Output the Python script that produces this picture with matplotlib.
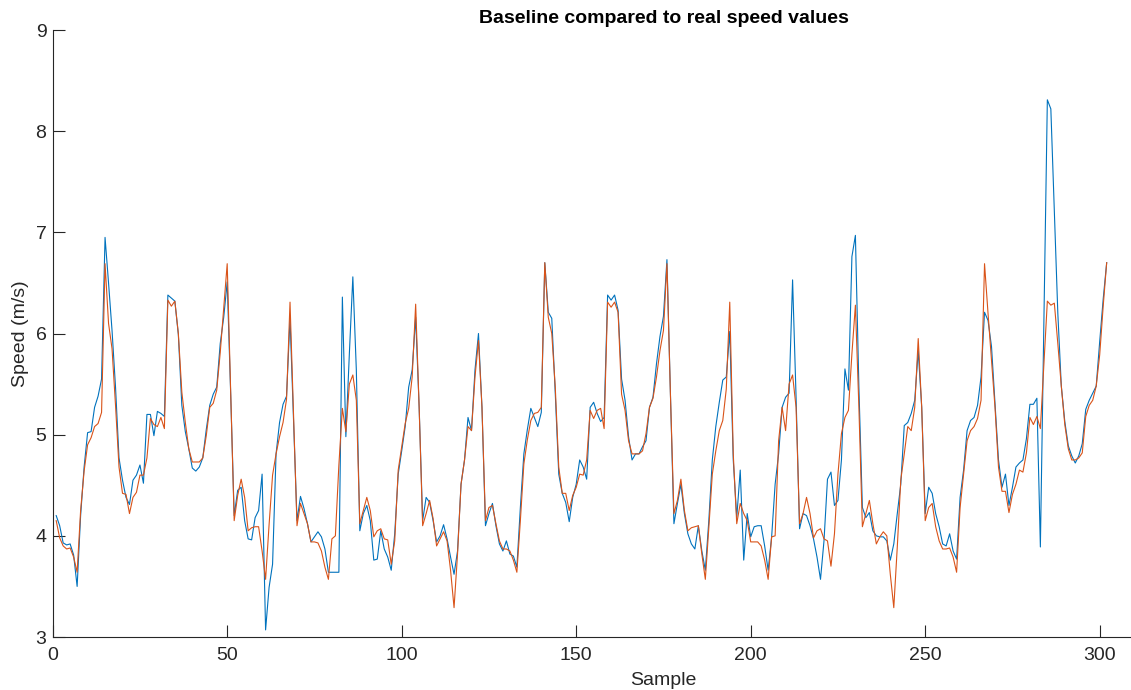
import matplotlib
matplotlib.use("Agg")
import matplotlib.pyplot as plt
import numpy as np

real_speed = [
    4.20, 4.10, 3.93, 3.91, 3.92, 3.81, 3.50, 4.20, 4.68, 5.02,
    5.03, 5.27, 5.38, 5.55, 6.95, 6.50, 6.03, 5.47, 4.77, 4.55,
    4.38, 4.31, 4.55, 4.60, 4.70, 4.52, 5.20, 5.20, 4.99, 5.23,
    5.21, 5.18, 6.38, 6.35, 6.32, 5.99, 5.29, 5.03, 4.86, 4.67,
    4.64, 4.68, 4.77, 5.05, 5.29, 5.40, 5.47, 5.90, 6.16, 6.51,
    5.40, 4.20, 4.45, 4.48, 4.15, 3.97, 3.96, 4.18, 4.25, 4.61,
    3.07, 3.49, 3.72, 4.81, 5.12, 5.30, 5.38, 6.15, 5.14, 4.15,
    4.39, 4.27, 4.12, 3.94, 3.99, 4.04, 3.99, 3.87, 3.64, 3.64,
    3.64, 3.64, 6.36, 4.98, 5.80, 6.56, 5.64, 4.05, 4.22, 4.30,
    4.15, 3.76, 3.77, 4.05, 3.87, 3.79, 3.66, 4.02, 4.61, 4.84,
    5.08, 5.47, 5.64, 6.16, 5.27, 4.15, 4.38, 4.33, 4.15, 3.94,
    4.00, 4.11, 3.97, 3.79, 3.62, 3.85, 4.51, 4.75, 5.17, 5.04,
    5.64, 6.00, 5.27, 4.10, 4.22, 4.32, 4.10, 3.92, 3.85, 3.95,
    3.82, 3.80, 3.69, 4.28, 4.81, 5.05, 5.26, 5.17, 5.08, 5.22,
    6.70, 6.21, 6.15, 5.41, 4.61, 4.42, 4.33, 4.14, 4.38, 4.51,
    4.75, 4.68, 4.56, 5.27, 5.32, 5.21, 5.13, 5.17, 6.38, 6.33,
    6.38, 6.23, 5.55, 5.34, 4.98, 4.75, 4.81, 4.81, 4.88, 4.94,
    5.27, 5.37, 5.70, 5.97, 6.17, 6.73, 5.40, 4.12, 4.32, 4.51,
    4.22, 4.02, 3.92, 3.87, 4.10, 3.85, 3.66, 4.15, 4.75, 5.08,
    5.32, 5.54, 5.57, 6.02, 4.75, 4.18, 4.65, 3.76, 4.22, 3.99,
    4.09, 4.10, 4.10, 3.90, 3.66, 3.99, 4.51, 4.81, 5.27, 5.37,
    5.41, 6.53, 5.37, 4.07, 4.22, 4.20, 4.10, 3.97, 3.79, 3.57,
    3.95, 4.56, 4.63, 4.30, 4.35, 4.75, 5.65, 5.44, 6.76, 6.97,
    5.47, 4.28, 4.18, 4.23, 4.05, 4.00, 3.99, 3.99, 3.95, 3.76,
    3.92, 4.22, 4.51, 5.09, 5.12, 5.21, 5.34, 5.83, 5.27, 4.22,
    4.48, 4.42, 4.22, 4.09, 3.92, 3.90, 4.02, 3.85, 3.77, 4.38,
    4.65, 5.04, 5.14, 5.17, 5.29, 5.57, 6.21, 6.13, 5.87, 5.31,
    4.75, 4.48, 4.61, 4.30, 4.48, 4.68, 4.72, 4.75, 4.96, 5.30,
    5.30, 5.36, 3.89, 6.10, 8.31, 8.22, 7.20, 6.20, 5.48, 5.13,
    4.89, 4.79, 4.72, 4.79, 4.91, 5.25, 5.34, 5.41, 5.48, 5.92,
    6.34, 6.70,
]

baseline_speed = [
    4.15, 3.98, 3.90, 3.87, 3.88, 3.79, 3.64, 4.25, 4.64, 4.90,
    4.97, 5.08, 5.11, 5.22, 6.69, 6.10, 5.85, 5.29, 4.68, 4.42,
    4.41, 4.22, 4.38, 4.43, 4.60, 4.60, 4.77, 5.16, 5.10, 5.08,
    5.17, 5.06, 6.33, 6.27, 6.32, 6.00, 5.42, 5.12, 4.86, 4.73,
    4.73, 4.73, 4.77, 4.99, 5.27, 5.31, 5.44, 5.81, 6.25, 6.69,
    5.40, 4.15, 4.40, 4.56, 4.38, 4.05, 4.08, 4.09, 4.09, 3.85,
    3.57, 4.11, 4.60, 4.81, 4.98, 5.12, 5.35, 6.31, 5.20, 4.10,
    4.32, 4.22, 4.12, 3.94, 3.94, 3.93, 3.85, 3.69, 3.57, 3.97,
    4.00, 4.70, 5.26, 5.03, 5.50, 5.59, 5.34, 4.12, 4.25, 4.38,
    4.25, 3.99, 4.05, 4.07, 3.97, 3.96, 3.72, 3.95, 4.65, 4.88,
    5.11, 5.26, 5.57, 6.29, 5.27, 4.10, 4.22, 4.35, 4.17, 3.90,
    3.97, 4.04, 3.95, 3.66, 3.29, 3.82, 4.51, 4.75, 5.08, 5.04,
    5.57, 5.93, 5.27, 4.15, 4.28, 4.30, 4.12, 3.95, 3.87, 3.87,
    3.85, 3.76, 3.64, 4.15, 4.71, 4.95, 5.14, 5.21, 5.22, 5.27,
    6.70, 6.16, 6.00, 5.47, 4.68, 4.42, 4.42, 4.25, 4.40, 4.48,
    4.61, 4.60, 4.75, 5.24, 5.16, 5.24, 5.26, 5.06, 6.31, 6.26,
    6.31, 6.21, 5.40, 5.24, 4.94, 4.81, 4.81, 4.81, 4.84, 5.01,
    5.27, 5.36, 5.57, 5.83, 6.03, 6.69, 5.40, 4.22, 4.35, 4.56,
    4.25, 4.05, 4.08, 4.09, 4.10, 3.82, 3.57, 4.08, 4.61, 4.84,
    5.04, 5.14, 5.45, 6.31, 4.81, 4.12, 4.32, 4.22, 4.15, 3.94,
    3.94, 3.94, 3.90, 3.76, 3.57, 3.99, 4.00, 4.94, 5.27, 5.04,
    5.50, 5.59, 5.27, 4.12, 4.22, 4.38, 4.22, 3.98, 4.05, 4.07,
    3.97, 3.95, 3.70, 4.02, 4.61, 5.01, 5.17, 5.24, 5.80, 6.28,
    5.27, 4.09, 4.22, 4.35, 4.12, 3.92, 3.99, 4.04, 4.00, 3.62,
    3.29, 3.89, 4.55, 4.81, 5.08, 5.04, 5.27, 5.95, 5.27, 4.15,
    4.28, 4.32, 4.09, 3.95, 3.87, 3.87, 3.88, 3.79, 3.64, 4.28,
    4.61, 4.94, 5.04, 5.08, 5.16, 5.34, 6.69, 6.20, 5.74, 5.27,
    4.68, 4.44, 4.44, 4.23, 4.41, 4.51, 4.65, 4.63, 4.82, 5.17,
    5.10, 5.18, 5.06, 5.70, 6.32, 6.28, 6.30, 5.90, 5.48, 5.10,
    4.86, 4.75, 4.75, 4.77, 4.82, 5.18, 5.29, 5.34, 5.48, 5.79,
    6.27, 6.70,
]

title_text = "Baseline compared to real speed values"
x_label = "Sample"
y_label = "Speed (m/s)"
x_ticks = [0, 50, 100, 150, 200, 250, 300]
y_ticks = [3, 4, 5, 6, 7, 8, 9]

plt.rcParams['font.family'] = ['Liberation Sans', 'DejaVu Sans']

W, H = 1131, 690
fig = plt.figure(figsize=(W / 100, H / 100), dpi=100)
left = 52.7 / W
bottom = 1 - 637 / H
width = 1221.5 / W
height = (637 - 30) / H
ax = fig.add_axes([left, bottom, width, height])

samples = np.arange(1, len(real_speed) + 1)
ax.plot(samples, real_speed, color='#0072BD', lw=0.8)
ax.plot(samples, baseline_speed, color='#D95319', lw=0.8)

ax.set_xlim(0, 350)
ax.set_ylim(3, 9)
ax.set_xticks(x_ticks)
ax.set_yticks(y_ticks)
for s in ['top', 'right']:
    ax.spines[s].set_visible(False)
for s in ['left', 'bottom']:
    ax.spines[s].set_color('#262626')
    ax.spines[s].set_linewidth(0.8)
ax.tick_params(direction='in', length=8.5, width=0.8, colors='#262626',
               labelsize=14)
ax.tick_params(axis='x', pad=7)
ax.tick_params(axis='y', pad=4.5)
ax.set_title(title_text, fontsize=14, fontweight='bold', pad=5)
ax.set_xlabel(x_label, fontsize=14, color='#262626')
ax.set_ylabel(y_label, fontsize=14, color='#262626')
ax.xaxis.set_label_coords(0.5, -(672 - 637) / 607)
ax.yaxis.set_label_coords((29 - 52.7) / 1221.5, 0.5)

fig.savefig('out.png', dpi=100)
